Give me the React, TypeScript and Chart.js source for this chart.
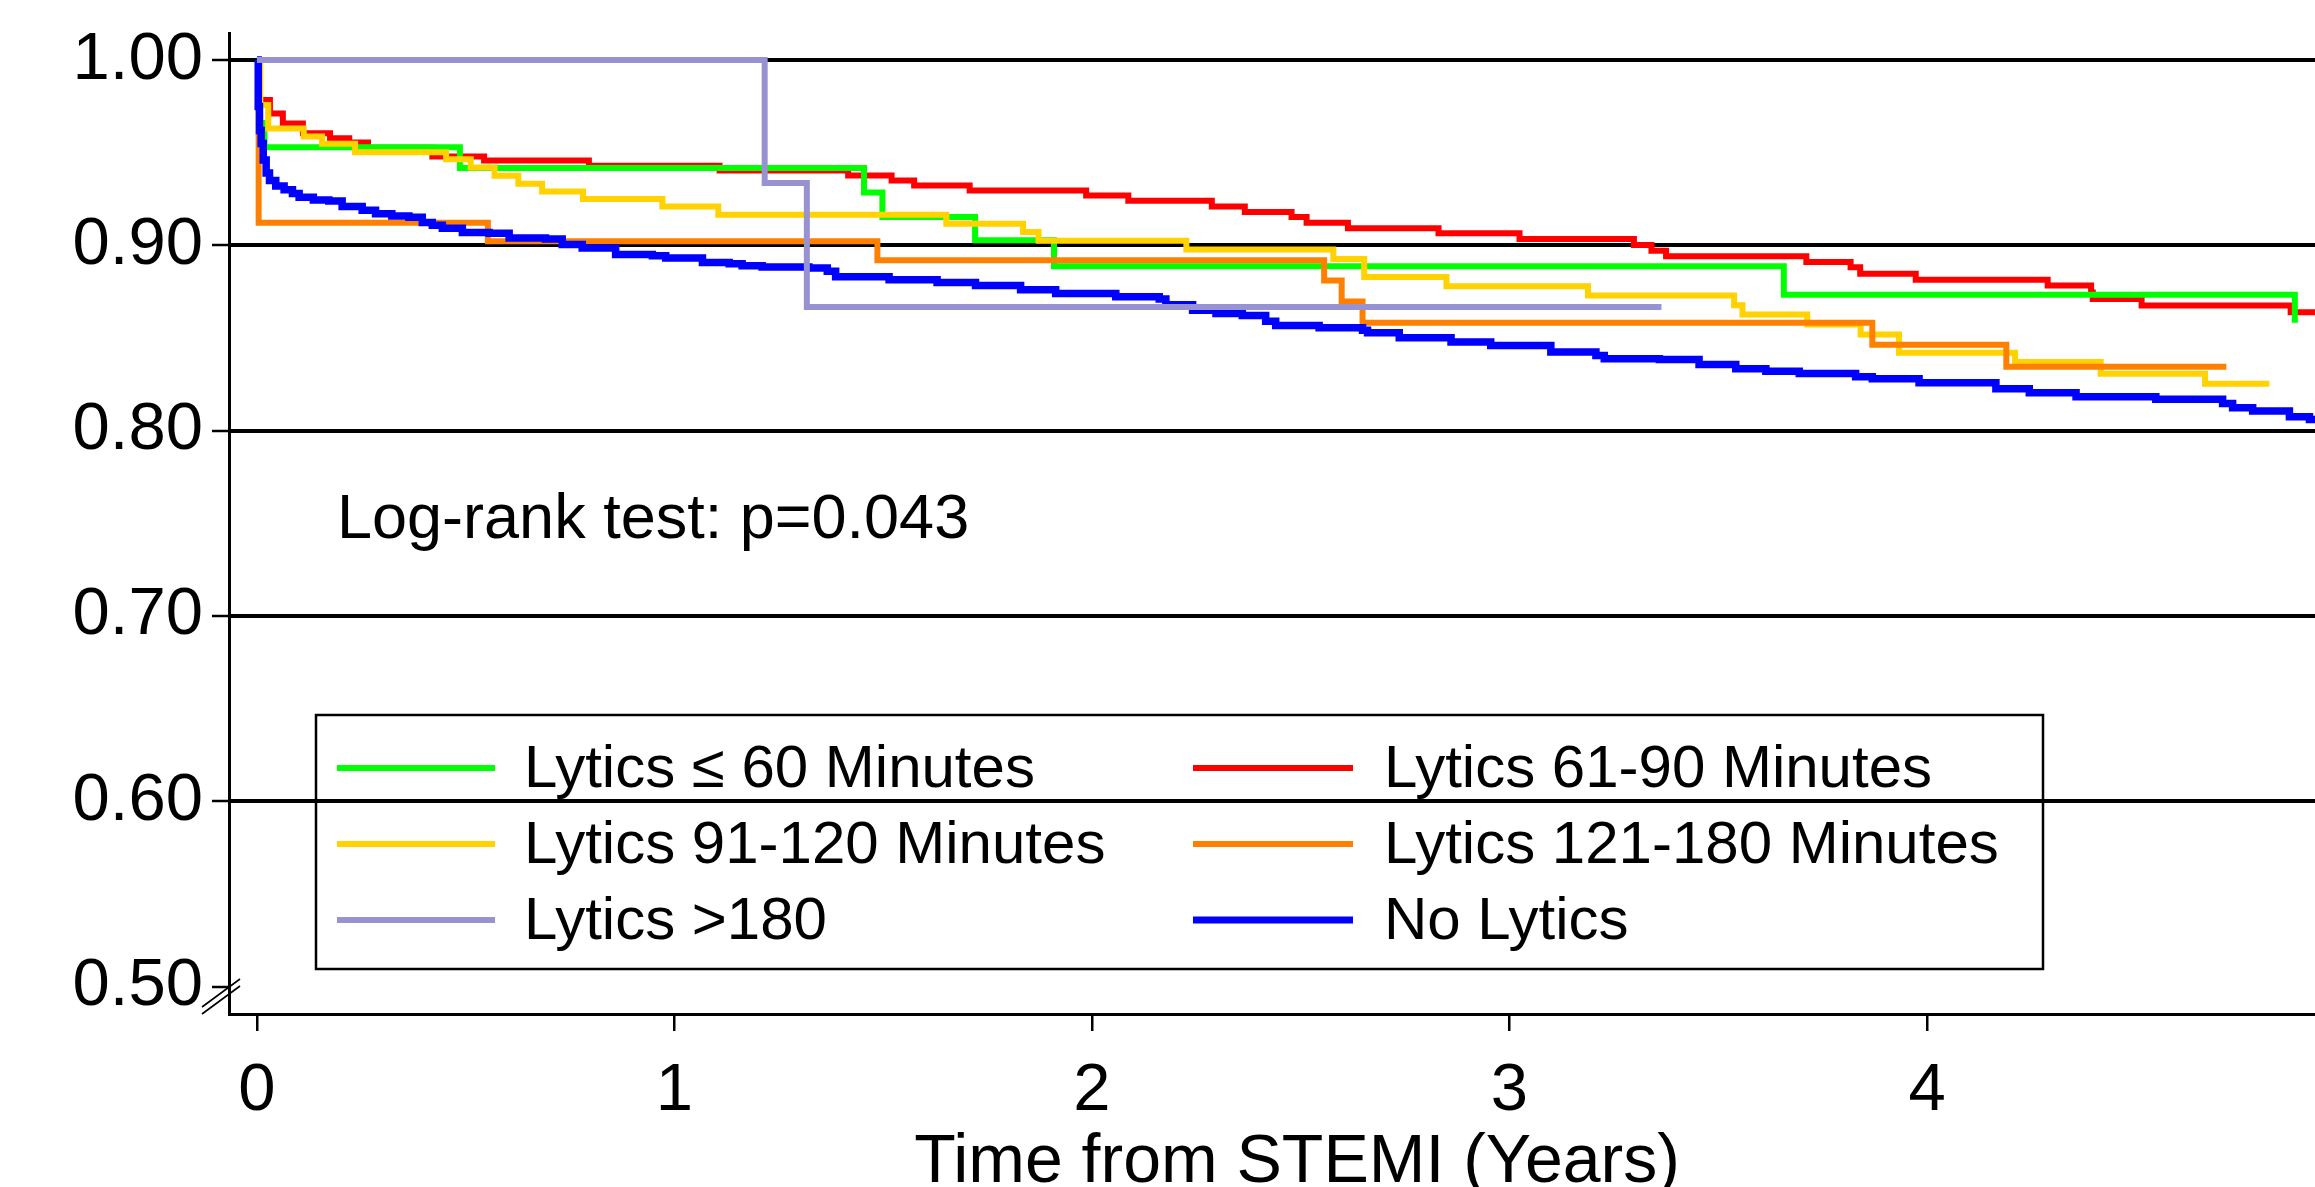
import React, { useEffect, useRef } from "react";
import { Chart, registerables } from "chart.js";

Chart.register(...registerables);

const FONT = '"Liberation Sans", Arial, Helvetica, sans-serif';

// ---- Series meta ----
const seriesLabels = [
  "Lytics \u2264 60 Minutes",
  "Lytics 61-90 Minutes",
  "Lytics 91-120 Minutes",
  "Lytics 121-180 Minutes",
  "Lytics >180",
  "No Lytics",
];
const seriesColors = ["#00FF00", "#FF0000", "#FFD200", "#FF8000", "#9793D3", "#0000FF"];

// ---- Kaplan-Meier data (time in years, survival) ----
const timeLe60 = [0, 0.005, 0.018, 0.486, 1.454, 1.498, 1.72, 1.909, 3.657, 4.881];
const survLe60 = [1, 0.966, 0.953, 0.9417, 0.9285, 0.9153, 0.9027, 0.8887, 0.8734, 0.8582];

const time61to90 = [0, 0.006, 0.031, 0.062, 0.11, 0.175, 0.221, 0.266, 0.42, 0.544, 0.795, 1.108, 1.416, 1.52, 1.574, 1.707, 1.986, 2.087, 2.287, 2.366, 2.478, 2.514, 2.613, 2.83, 3.024, 3.298, 3.34, 3.375, 3.711, 3.817, 3.84, 3.973, 4.289, 4.393, 4.397, 4.514, 4.871, 4.93];
const surv61to90 = [1, 0.9784, 0.9712, 0.9658, 0.9605, 0.9578, 0.9555, 0.9527, 0.9479, 0.9458, 0.9429, 0.9404, 0.9377, 0.935, 0.9323, 0.9296, 0.9269, 0.9241, 0.921, 0.918, 0.9153, 0.9122, 0.9093, 0.9065, 0.9034, 0.9002, 0.8971, 0.8941, 0.891, 0.8882, 0.8847, 0.8815, 0.8783, 0.8745, 0.8711, 0.8675, 0.8639, 0.8639];

const time91to120 = [0, 0.008, 0.027, 0.112, 0.156, 0.235, 0.453, 0.512, 0.569, 0.626, 0.683, 0.781, 0.971, 1.105, 1.651, 1.835, 1.872, 2.226, 2.578, 2.652, 2.849, 3.188, 3.538, 3.558, 3.713, 3.841, 3.933, 4.211, 4.416, 4.666, 4.82];
const surv91to120 = [1, 0.9757, 0.9631, 0.9587, 0.9548, 0.9503, 0.9465, 0.942, 0.9375, 0.9332, 0.9291, 0.925, 0.921, 0.9165, 0.9117, 0.9072, 0.9025, 0.8977, 0.8926, 0.8829, 0.8779, 0.8729, 0.8677, 0.8627, 0.8573, 0.8519, 0.842, 0.837, 0.8307, 0.8253, 0.8253];

const time121to180 = [0, 0.004, 0.553, 1.486, 2.556, 2.598, 2.648, 3.869, 4.19, 4.717];
const surv121to180 = [1, 0.9122, 0.9022, 0.8919, 0.8811, 0.8697, 0.8582, 0.8463, 0.8345, 0.8345];

const timeOver180 = [0, 1.216, 1.317, 3.364];
const survOver180 = [1, 0.9336, 0.8668, 0.8668];

const timeNoLytics = [0, 0.003, 0.006, 0.01, 0.015, 0.022, 0.03, 0.045, 0.065, 0.085, 0.101, 0.135, 0.172, 0.204, 0.252, 0.284, 0.323, 0.364, 0.396, 0.42, 0.444, 0.492, 0.556, 0.604, 0.691, 0.731, 0.779, 0.859, 0.947, 0.979, 1.067, 1.131, 1.162, 1.21, 1.322, 1.366, 1.386, 1.514, 1.629, 1.721, 1.829, 1.913, 2.057, 2.161, 2.177, 2.241, 2.297, 2.36, 2.416, 2.44, 2.544, 2.648, 2.66, 2.736, 2.86, 2.955, 3.099, 3.207, 3.227, 3.359, 3.454, 3.542, 3.614, 3.694, 3.829, 3.869, 3.981, 4.165, 4.245, 4.357, 4.548, 4.708, 4.732, 4.78, 4.868, 4.916, 4.93];
const survNoLytics = [1, 0.975, 0.962, 0.955, 0.946, 0.939, 0.935, 0.932, 0.93, 0.928, 0.926, 0.9245, 0.924, 0.921, 0.919, 0.917, 0.9158, 0.9152, 0.9124, 0.9108, 0.9093, 0.907, 0.9066, 0.904, 0.9034, 0.9004, 0.8986, 0.895, 0.8944, 0.8932, 0.8908, 0.8901, 0.889, 0.8883, 0.8878, 0.886, 0.883, 0.8815, 0.88, 0.8783, 0.8761, 0.874, 0.8722, 0.8711, 0.868, 0.865, 0.8632, 0.8621, 0.8591, 0.8567, 0.8555, 0.8542, 0.8528, 0.8501, 0.8478, 0.846, 0.8424, 0.8406, 0.8388, 0.8384, 0.8357, 0.8334, 0.8321, 0.8309, 0.8291, 0.828, 0.8259, 0.8226, 0.8205, 0.8183, 0.8169, 0.8147, 0.8124, 0.8106, 0.8075, 0.806, 0.805];

// ---- Axes ----
const xTicks = [0, 1, 2, 3, 4];
const yTicks = [0.5, 0.6, 0.7, 0.8, 0.9, 1.0];
const xMin = -0.067;
const xMax = 4.9293;
const yMin = 0.4852;
const yMax = 1.0146;
const xAxisTitle = "Time from STEMI (Years)";
const annotationText = "Log-rank test: p=0.043";

// legend arrangement (indices into series), row by row
const legendRows = [
  [0, 1],
  [2, 3],
  [4, 5],
];
// drawing order (lower = on top)
const drawOrder = [4, 5, 3, 2, 0, 1];

const seriesTimes = [timeLe60, time61to90, time91to120, time121to180, timeOver180, timeNoLytics];
const seriesSurv = [survLe60, surv61to90, surv91to120, surv121to180, survOver180, survNoLytics];

const overlayPlugin = {
  id: "overlay",
  afterDraw(chart: any) {
    const ctx = chart.ctx as CanvasRenderingContext2D;
    ctx.save();
    ctx.fillStyle = "#000";

    // annotation
    ctx.font = `63px ${FONT}`;
    ctx.textAlign = "left";
    ctx.textBaseline = "middle";
    ctx.fillText(annotationText, 337, 521);

    // x-axis title
    ctx.font = `68px ${FONT}`;
    ctx.textAlign = "center";
    ctx.textBaseline = "alphabetic";
    ctx.fillText(xAxisTitle, 1297, 1182);

    // axis break marks
    ctx.strokeStyle = "#000";
    ctx.lineWidth = 1.6;
    ctx.beginPath();
    ctx.moveTo(202, 1007);
    ctx.lineTo(240, 979);
    ctx.moveTo(202, 1014);
    ctx.lineTo(240, 986);
    ctx.stroke();

    // legend box
    const boxL = 316, boxT = 715, boxR = 2043, boxB = 969;
    ctx.lineWidth = 2.5;
    ctx.strokeRect(boxL, boxT, boxR - boxL, boxB - boxT);

    const colSampleX = [[337, 495], [1193, 1353]];
    const colTextX = [524, 1384];
    const rowY = [768, 844, 920];
    ctx.font = `60px ${FONT}`;
    ctx.textAlign = "left";
    ctx.textBaseline = "middle";
    legendRows.forEach((row, r) => {
      row.forEach((si, c) => {
        const ds = chart.data.datasets[si];
        ctx.strokeStyle = ds.borderColor;
        ctx.lineWidth = si === 5 ? 7 : 6;
        ctx.beginPath();
        ctx.moveTo(colSampleX[c][0], rowY[r]);
        ctx.lineTo(colSampleX[c][1], rowY[r]);
        ctx.stroke();
        ctx.fillStyle = "#000";
        ctx.fillText(ds.label, colTextX[c], rowY[r] + 2);
      });
    });
    ctx.restore();
  },
};

export default function App() {
  const canvasRef = useRef<HTMLCanvasElement | null>(null);

  useEffect(() => {
    document.body.style.margin = "0";
    const canvas = canvasRef.current;
    if (!canvas) return;

    const datasets = seriesTimes.map((times, i) => ({
      label: seriesLabels[i],
      data: times.map((t, j) => ({ x: t, y: seriesSurv[i][j] })),
      borderColor: seriesColors[i],
      backgroundColor: seriesColors[i],
      borderWidth: i === 5 ? 7.5 : 6,
      pointRadius: 0,
      pointHoverRadius: 0,
      stepped: "before" as const,
      fill: false,
      tension: 0,
      order: drawOrder[i],
      borderJoinStyle: "miter" as const,
      borderCapStyle: "butt" as const,
    }));

    const chart = new Chart(canvas, {
      type: "line",
      data: { datasets },
      plugins: [overlayPlugin],
      options: {
        animation: false,
        responsive: false,
        devicePixelRatio: 1,
        events: [],
        layout: { padding: { top: 33, left: 0, right: 0, bottom: 0 } },
        plugins: {
          legend: { display: false },
          tooltip: { enabled: false },
          title: { display: false },
        },
        scales: {
          x: {
            type: "linear",
            min: xMin,
            max: xMax,
            afterBuildTicks: (s: any) => {
              s.ticks = xTicks.map((v) => ({ value: v }));
            },
            afterFit: (s: any) => {
              s.height = 173;
              s.paddingLeft = 0;
              s.paddingRight = 0;
            },
            ticks: {
              font: { family: FONT, size: 67 },
              color: "#000",
              padding: 20,
              maxRotation: 0,
              autoSkip: false,
              callback: (v: any) => String(v),
            },
            grid: {
              display: true,
              drawOnChartArea: false,
              drawTicks: true,
              tickLength: 17,
              tickColor: "#000",
              tickWidth: 2.5,
              color: "#000",
              lineWidth: 2.5,
            },
            border: { display: true, color: "#000", width: 3 },
          },
          y: {
            type: "linear",
            min: yMin,
            max: yMax,
            afterBuildTicks: (s: any) => {
              s.ticks = yTicks.map((v) => ({ value: v }));
            },
            afterFit: (s: any) => {
              s.width = 229;
              s.paddingTop = 0;
              s.paddingBottom = 0;
            },
            ticks: {
              font: { family: FONT, size: 67 },
              color: "#000",
              padding: 9,
              autoSkip: false,
              callback: (v: any) => Number(v).toFixed(2),
            },
            grid: {
              display: true,
              drawTicks: true,
              tickLength: 17,
              tickColor: "#000",
              tickWidth: 2.5,
              lineWidth: 4,
              color: (c: any) =>
                c.tick && Math.abs(c.tick.value - 0.5) < 1e-6 ? "rgba(0,0,0,0)" : "#000",
            },
            border: { display: true, color: "#000", width: 3 },
          },
        },
      } as any,
    });

    return () => {
      chart.destroy();
    };
  }, []);

  return (
    <canvas
      ref={canvasRef}
      width={2315}
      height={1187}
      style={{ position: "absolute", left: 0, top: 0, display: "block" }}
    />
  );
}
